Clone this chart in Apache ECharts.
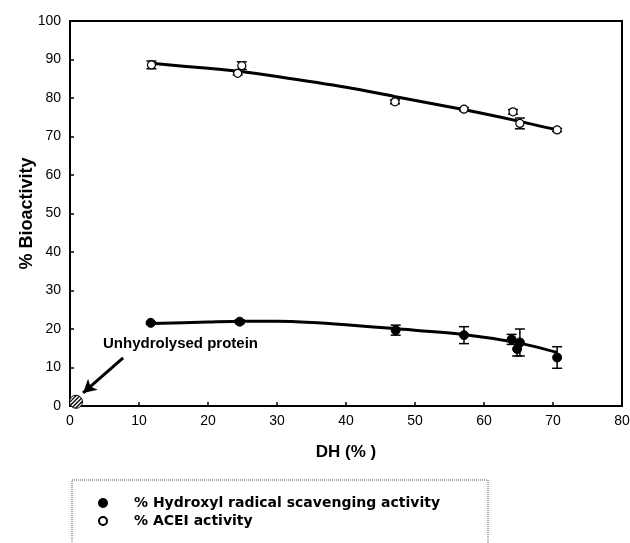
<!DOCTYPE html>
<html>
<head>
<meta charset="utf-8">
<script src="https://cdn.jsdelivr.net/npm/echarts@6/dist/echarts.min.js"></script>
<style>
  html, body { margin: 0; padding: 0; background: #fff; }
  #chart { width: 630px; height: 543px; }
</style>
</head>
<body>
<div id="chart"></div>
<script>
// ACEI activity (open circles)
const aceiX = [11.8, 24.3, 24.9, 47.1, 57.1, 64.2, 65.2, 70.6];
const aceiY = [88.6, 86.4, 88.4, 79.0, 77.1, 76.4, 73.4, 71.7];
const aceiErr = [1.0, 0.4, 1.0, 0.5, 0.4, 0.6, 1.4, 0.4];

// Hydroxyl radical scavenging activity (filled circles)
const hydroxylX = [11.7, 24.6, 47.2, 57.1, 64.0, 65.2, 64.8, 70.6];
const hydroxylY = [21.6, 21.9, 19.7, 18.4, 17.3, 16.5, 14.8, 12.6];
const hydroxylErr = [0.3, 0.5, 1.3, 2.2, 1.3, 3.5, 1.8, 2.8];

// trend lines
const aceiFitX = [11.8, 20, 25, 30, 40, 47, 57, 65, 70.6];
const aceiFitY = [89.0, 87.7, 86.8, 85.6, 82.8, 80.4, 77.0, 74.0, 71.7];
const hydroxylFitX = [11.8, 20, 25, 30, 35, 40, 47, 57, 65, 70.6];
const hydroxylFitY = [21.4, 21.8, 22.0, 22.0, 21.7, 21.1, 20.1, 18.6, 16.4, 13.9];

// unhydrolysed protein marker and the arrow pointing at it
const unhydrolysed = [0.87, 1.1];
const arrowFrom = [7.7, 12.5];
const arrowTo = [1.9, 3.4];

const font = "'Liberation Sans', Arial, sans-serif";

const zip = (xs, ys) => xs.map((x, i) => [x, ys[i]]);
const zip3 = (xs, ys, es) => xs.map((x, i) => [x, ys[i], es[i]]);

function errorBar(params, api) {
  const x = api.value(0), y = api.value(1), e = api.value(2);
  const hi = api.coord([x, y + e]);
  const lo = api.coord([x, y - e]);
  const w = 5;
  const style = { stroke: '#000', lineWidth: 1.5 };
  return {
    type: 'group',
    children: [
      { type: 'line', shape: { x1: hi[0], y1: hi[1], x2: lo[0], y2: lo[1] }, style },
      { type: 'line', shape: { x1: hi[0] - w, y1: hi[1], x2: hi[0] + w, y2: hi[1] }, style },
      { type: 'line', shape: { x1: lo[0] - w, y1: lo[1], x2: lo[0] + w, y2: lo[1] }, style }
    ]
  };
}

// hatched circle drawn around the data point
function hatched(params, api) {
  const c = api.coord([api.value(0), api.value(1)]);
  const r = 6.5;
  const s = Math.SQRT1_2;
  const children = [
    { type: 'circle', shape: { cx: c[0], cy: c[1], r }, style: { fill: '#fff', stroke: '#000', lineWidth: 1 } }
  ];
  [-4.2, -1.4, 1.4, 4.2].forEach((d) => {
    const px = c[0] + d * s, py = c[1] + d * s;
    const h = Math.sqrt(r * r - d * d);
    children.push({
      type: 'line',
      shape: { x1: px - h * s, y1: py + h * s, x2: px + h * s, y2: py - h * s },
      style: { stroke: '#000', lineWidth: 1.2 }
    });
  });
  return { type: 'group', children };
}

const chart = echarts.init(document.getElementById('chart'), null, { renderer: 'canvas' });

const option = {
  animation: false,
  backgroundColor: '#fff',
  grid: {
    left: 70, right: 8, top: 21, bottom: 137,
    show: true, borderColor: '#000', borderWidth: 2,
    containLabel: false, outerBoundsMode: 'none'
  },
  legend: {
    orient: 'vertical',
    left: 93,
    top: 491,
    itemWidth: 52,
    itemHeight: 8,
    itemGap: 4,
    data: ['% Hydroxyl radical scavenging activity', '% ACEI activity'],
    textStyle: { color: '#000', fontSize: 14, fontWeight: 'bold', fontFamily: "'DejaVu Sans', sans-serif" },
    selectedMode: false
  },
  xAxis: {
    type: 'value',
    min: 0, max: 80, interval: 10,
    name: 'DH (% )',
    nameLocation: 'middle',
    nameGap: 38,
    nameTextStyle: { color: '#000', fontSize: 17, fontWeight: 'bold', fontFamily: font },
    axisLine: { lineStyle: { color: '#000', width: 2 } },
    axisTick: { inside: true, length: 4, lineStyle: { color: '#000', width: 1.5 } },
    axisLabel: { color: '#000', fontSize: 14, margin: 8, fontFamily: font },
    splitLine: { show: false }
  },
  yAxis: {
    type: 'value',
    min: 0, max: 100, interval: 10,
    name: '% Bioactivity',
    nameLocation: 'middle',
    nameGap: 34,
    nameMoveOverlap: false,
    nameTextStyle: { color: '#000', fontSize: 18, fontWeight: 'bold', fontFamily: font },
    axisLine: { lineStyle: { color: '#000', width: 2 } },
    axisTick: { inside: true, length: 4, lineStyle: { color: '#000', width: 1.5 } },
    axisLabel: { color: '#000', fontSize: 14, margin: 9, fontFamily: font },
    splitLine: { show: false }
  },
  graphic: [
    {
      type: 'rect',
      shape: { x: 72, y: 480, width: 416, height: 90 },
      style: { fill: 'none', stroke: '#555', lineWidth: 1, lineDash: [1, 1] },
      z: 0
    },
    {
      type: 'text',
      left: 103,
      top: 336,
      style: { text: 'Unhydrolysed protein', fill: '#000', font: 'bold 15px ' + font }
    }
  ],
  series: [
    {
      type: 'line',
      data: zip(aceiFitX, aceiFitY),
      smooth: 0.3,
      symbol: 'none',
      lineStyle: { color: '#000', width: 3 },
      z: 2
    },
    {
      type: 'line',
      data: zip(hydroxylFitX, hydroxylFitY),
      smooth: 0.3,
      symbol: 'none',
      lineStyle: { color: '#000', width: 3 },
      z: 2
    },
    {
      type: 'custom',
      renderItem: errorBar,
      data: zip3(aceiX, aceiY, aceiErr),
      encode: { x: 0, y: 1 },
      z: 3
    },
    {
      type: 'custom',
      renderItem: errorBar,
      data: zip3(hydroxylX, hydroxylY, hydroxylErr),
      encode: { x: 0, y: 1 },
      z: 3
    },
    {
      name: '% Hydroxyl radical scavenging activity',
      type: 'scatter',
      data: zip(hydroxylX, hydroxylY),
      symbol: 'circle',
      symbolSize: 9,
      itemStyle: { color: '#000', borderColor: '#000', borderWidth: 1, opacity: 1 },
      z: 4
    },
    {
      name: '% ACEI activity',
      type: 'scatter',
      data: zip(aceiX, aceiY),
      symbol: 'circle',
      symbolSize: 8,
      itemStyle: { color: '#fff', borderColor: '#000', borderWidth: 1.2, opacity: 1 },
      z: 4
    },
    {
      type: 'custom',
      renderItem: hatched,
      data: [unhydrolysed],
      encode: { x: 0, y: 1 },
      clip: false,
      z: 5,
      markLine: {
        silent: true,
        symbol: ['none', 'arrow'],
        symbolSize: [11, 13],
        label: { show: false },
        lineStyle: { color: '#000', width: 3, type: 'solid' },
        data: [[{ coord: arrowFrom }, { coord: arrowTo }]]
      }
    }
  ]
};

chart.setOption(option);
</script>
</body>
</html>
